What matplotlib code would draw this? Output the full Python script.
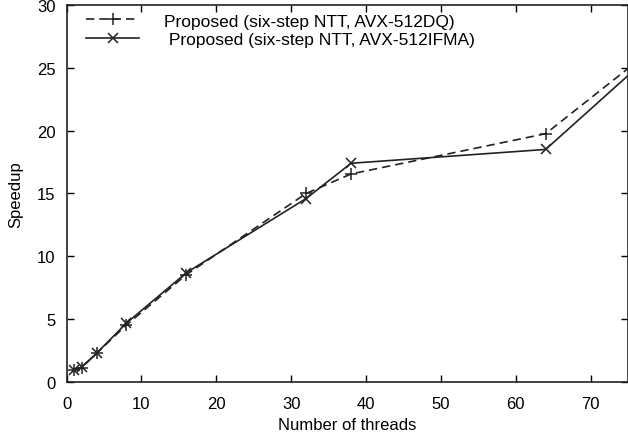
import matplotlib
matplotlib.use("Agg")
import matplotlib.pyplot as plt

plt.rcParams['font.family'] = ['Liberation Sans', 'DejaVu Sans']

threads = [1, 2, 4, 8, 16, 32, 38, 64, 76]
speedup_dq = [1.0, 1.15, 2.3, 4.55, 8.55, 15.0, 16.55, 19.75, 25.4]
speedup_ifma = [1.0, 1.2, 2.3, 4.7, 8.7, 14.6, 17.4, 18.5, 24.9]
labels = ["Proposed (six-step NTT, AVX-512DQ)",
          " Proposed (six-step NTT, AVX-512IFMA)"]
xticks = [0, 10, 20, 30, 40, 50, 60, 70]
yticks = [0, 5, 10, 15, 20, 25, 30]

fig = plt.figure(figsize=(6.28, 4.39), dpi=100)
ax = fig.add_axes([0.106, 0.127, 0.894, 0.86])

ax.plot(threads, speedup_dq, color='#222222', lw=1.2, linestyle=(0, (5, 3)),
        marker='+', markersize=9, mew=1.1, label=labels[0])
ax.plot(threads, speedup_ifma, color='#222222', lw=1.2, linestyle='-',
        marker='x', markersize=7, mew=1.1, label=labels[1])

ax.set_xlim(0, 75)
ax.set_ylim(0, 30)
ax.set_xticks(xticks)
ax.set_yticks(yticks)
ax.tick_params(direction='in', length=5, width=1, labelsize=12,
               top=True, right=True)
ax.tick_params(axis='x', pad=10)
ax.tick_params(axis='y', pad=8)
for s in ax.spines.values():
    s.set_linewidth(1.2)
    s.set_color('#222222')

ax.set_xlabel("Number of threads", fontsize=12, labelpad=4)
ax.set_ylabel("Speedup", fontsize=12, labelpad=10)

ax.legend(loc='upper left', bbox_to_anchor=(0.02, 1.0), frameon=False,
          fontsize=12.5, handlelength=3.0, handletextpad=1.45,
          labelspacing=0.2, borderaxespad=0.1)

fig.savefig("out.png", dpi=100)
